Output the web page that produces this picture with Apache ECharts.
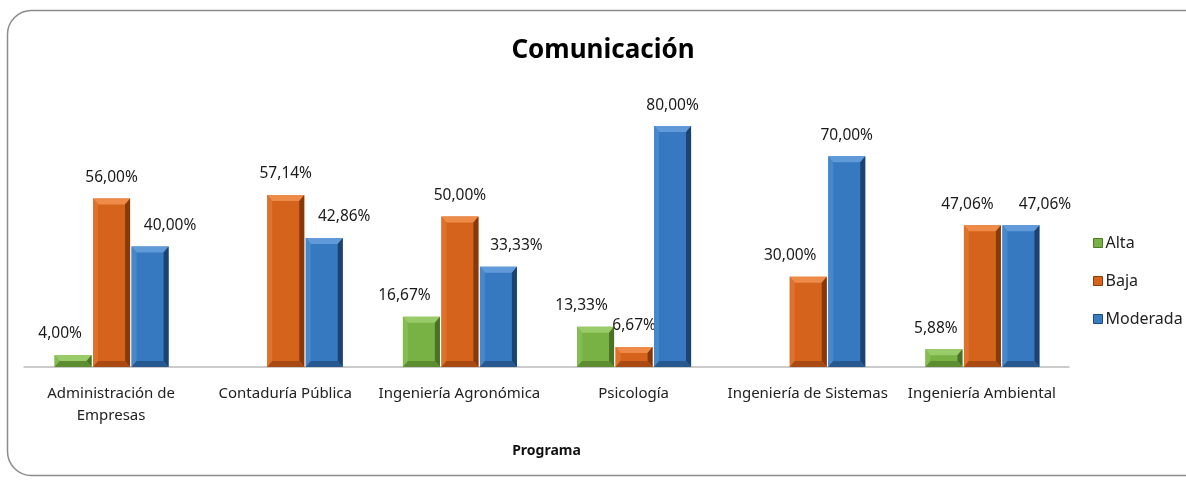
<!DOCTYPE html>
<html>
<head>
<meta charset="utf-8">
<script src="https://cdn.jsdelivr.net/npm/echarts@6/dist/echarts.min.js"></script>
<style>
html,body{margin:0;padding:0;background:#fff;}
#c{width:1186px;height:480px;}
</style>
</head>
<body>
<div id="c"></div>
<script>
const categories = ['Administración de\nEmpresas', 'Contaduría Pública', 'Ingeniería Agronómica', 'Psicología', 'Ingeniería de Sistemas', 'Ingeniería Ambiental'];
const alta = [4.00, 0, 16.67, 13.33, 0, 5.88];
const baja = [56.00, 57.14, 50.00, 6.67, 30.00, 47.06];
const moderada = [40.00, 42.86, 33.33, 80.00, 70.00, 47.06];
const seriesNames = ['Alta', 'Baja', 'Moderada'];

// label nudges (horizontal, px) imitating the original's label placement
const labelNudge = [
  [-13, null, -17, -14, null, -8],
  [0, 0, 0, 0, -18, -15],
  [20, 20, 18, 0, 0, 24]
];

const FONT = 'Noto Sans';
const palettes = [
  {main: '#78B144', top: '#9ACB69', left: '#86BD52', right: '#4A7226', bottom: '#5C8D31'},
  {main: '#D5631B', top: '#EE8B48', left: '#DE722D', right: '#86390B', bottom: '#A84A12'},
  {main: '#3779C1', top: '#609AD8', left: '#4788CB', right: '#1C4270', bottom: '#285890'}
];

function fmt(v) { return v.toFixed(2).replace('.', ',') + '%'; }

function makeRender(sIdx) {
  const p = palettes[sIdx];
  return function (params, api) {
    const i = api.value(0), v = api.value(1);
    if (!v) return null;
    const base = api.coord([i, 0]);
    const top = api.coord([i, v]);
    const bw = 37, step = 38.5;
    const cx = base[0] + (sIdx - 1) * step + 0.5;
    const x0 = cx - bw / 2, x1 = cx + bw / 2, y0 = top[1], y1 = base[1];
    const by = Math.min(6, (y1 - y0) / 2), bx = 5;
    const nudge = labelNudge[sIdx][i] || 0;
    return {
      type: 'group',
      children: [
        {type: 'rect', shape: {x: x0, y: y0, width: bw, height: y1 - y0}, style: {fill: p.main}},
        {type: 'polygon', shape: {points: [[x0, y0], [x1, y0], [x1 - bx, y0 + by], [x0 + bx, y0 + by]]}, style: {fill: p.top}},
        {type: 'polygon', shape: {points: [[x0, y0], [x0 + bx, y0 + by], [x0 + bx, y1 - by], [x0, y1]]}, style: {fill: p.left}},
        {type: 'polygon', shape: {points: [[x1, y0], [x1, y1], [x1 - bx, y1 - by], [x1 - bx, y0 + by]]}, style: {fill: p.right}},
        {type: 'polygon', shape: {points: [[x0, y1], [x0 + bx, y1 - by], [x1 - bx, y1 - by], [x1, y1]]}, style: {fill: p.bottom}},
        {type: 'text', x: cx + nudge, y: y0 - 21,
          style: {text: fmt(v), fontFamily: FONT, fontSize: 15.5, fill: '#1a1a1a', align: 'center', verticalAlign: 'middle'}}
      ]
    };
  };
}

function mk(sIdx, arr) {
  return {
    name: seriesNames[sIdx], type: 'custom',
    renderItem: makeRender(sIdx),
    encode: {x: 0, y: 1},
    itemStyle: {color: palettes[sIdx].main},
    data: arr.map((v, i) => [i, v]),
    z: 3
  };
}

const chart = echarts.init(document.getElementById('c'));
const option = {
  animation: false,
  backgroundColor: '#fff',
  title: {text: 'Comunicación', left: 598, top: 33, textAlign: 'center',
    textStyle: {fontFamily: FONT, fontWeight: 'bold', fontSize: 26, color: '#000'}},
  legend: {
    orient: 'vertical', left: 1088, top: 230, itemGap: 22,
    itemWidth: 9, itemHeight: 9, icon: 'rect',
    textStyle: {fontFamily: FONT, fontSize: 16, color: '#222', padding: [0, 0, 0, -2]},
    data: [
      {name: 'Alta', itemStyle: {color: '#78B144', borderColor: '#4E7A2A', borderWidth: 1}},
      {name: 'Baja', itemStyle: {color: '#D7641C', borderColor: '#8A3E0E', borderWidth: 1}},
      {name: 'Moderada', itemStyle: {color: '#3A7CC2', borderColor: '#1E4A7C', borderWidth: 1}}
    ]
  },
  grid: {left: 24, right: 117, top: 96, bottom: 113},
  xAxis: {
    type: 'category', data: categories,
    name: 'Programa', nameLocation: 'middle', nameGap: 77,
    nameTextStyle: {fontFamily: FONT, fontWeight: 'bold', fontSize: 14, color: '#111'},
    axisLine: {lineStyle: {color: '#BBBBBB', width: 1.5}},
    axisTick: {show: false},
    axisLabel: {fontFamily: FONT, fontSize: 15, color: '#222', margin: 16, lineHeight: 22, interval: 0}
  },
  yAxis: {type: 'value', min: 0, max: 90, show: false, splitLine: {show: false}},
  series: [mk(0, alta), mk(1, baja), mk(2, moderada)],
  graphic: [{
    type: 'rect', silent: true,
    shape: {x: 7.5, y: 10.5, width: 1250, height: 465, r: [24, 0, 0, 24]},
    style: {fill: 'none', stroke: '#8C8C8C', lineWidth: 1.5}
  }]
};
chart.setOption(option);
</script>
</body>
</html>
